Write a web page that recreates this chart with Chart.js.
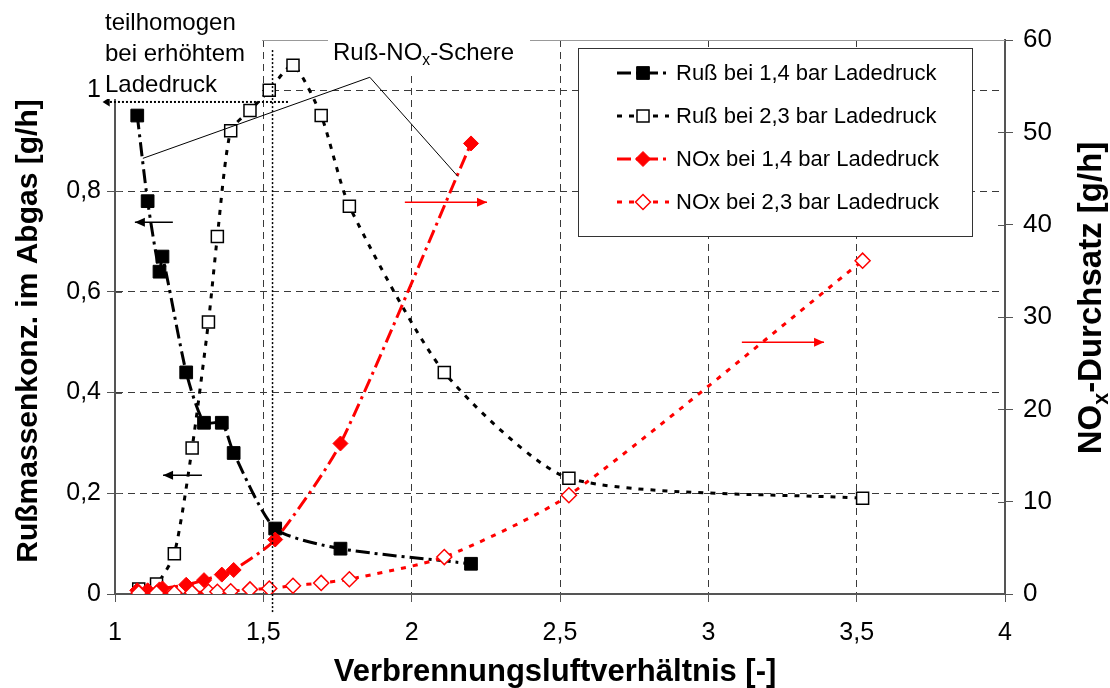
<!DOCTYPE html>
<html>
<head>
<meta charset="utf-8">
<script src="https://cdn.jsdelivr.net/npm/chart.js@4.4.0/dist/chart.umd.min.js"></script>
<style>
  html, body { margin: 0; padding: 0; background: #fff; }
  #wrap { position: relative; width: 1110px; height: 688px; }
</style>
</head>
<body>
<div id="wrap"><canvas id="chart"></canvas></div>
<script>
// Verbrennungsluftverhältnis (lambda) der Messpunkte
const lambda14 = [1.075, 1.11, 1.15, 1.16, 1.24, 1.30, 1.36, 1.40, 1.54, 1.76, 2.20];
const lambda23 = [1.08, 1.14, 1.20, 1.26, 1.315, 1.345, 1.39, 1.455, 1.52, 1.60, 1.695, 1.79, 2.11, 2.53, 3.52];

// Rußmassenkonzentration [g/h] (linke Achse)
const russ14 = [0.95, 0.78, 0.64, 0.67, 0.44, 0.34, 0.34, 0.28, 0.13, 0.09, 0.06];
const russ23 = [0.01, 0.02, 0.08, 0.29, 0.54, 0.71, 0.92, 0.96, 1.00, 1.05, 0.95, 0.77, 0.44, 0.23, 0.19];

// NOx-Durchsatz [g/h] (rechte Achse)
const nox14 = [0.4, 0.4, 0.5, 0.6, 1.0, 1.5, 2.1, 2.6, 5.9, 16.3, 48.8];
const nox23 = [0.1, 0.1, 0.1, 0.15, 0.25, 0.25, 0.3, 0.5, 0.6, 0.9, 1.2, 1.6, 4.0, 10.7, 36.1];

const seriesLabels = [
    'Ruß bei 1,4 bar Ladedruck',
    'Ruß bei 2,3 bar Ladedruck',
    'NOx bei 1,4 bar Ladedruck',
    'NOx bei 2,3 bar Ladedruck'
];

const xTickValues = [1, 1.5, 2, 2.5, 3, 3.5, 4];
const leftTickValues = [0, 0.2, 0.4, 0.6, 0.8, 1];
const rightTickValues = [0, 10, 20, 30, 40, 50, 60];

const FONT = '"Liberation Sans", Arial, sans-serif';
const RED = '#ff0000';
const GRID = '#3a3a3a';
const AXIS = '#555555';

const toPoints = (xs, ys) => xs.map((x, i) => ({x: x, y: ys[i]}));
const fmt = v => String(Math.round(v * 10) / 10).replace('.', ',');

// Text mit tiefgestellten Teilen zeichnen
function richWidth(ctx, parts, size, weight) {
    let w = 0;
    parts.forEach(p => {
        ctx.font = `${weight} ${p.sub ? size * 0.65 : size}px ${FONT}`;
        w += ctx.measureText(p.t).width;
    });
    return w;
}

function drawRich(ctx, parts, x, y, size, weight) {
    let cx = x;
    parts.forEach(p => {
        ctx.font = `${weight} ${p.sub ? size * 0.65 : size}px ${FONT}`;
        ctx.fillText(p.t, cx, y + (p.sub ? size * 0.2 : 0));
        cx += ctx.measureText(p.t).width;
    });
}

function arrow(ctx, x1, y1, x2, y2, color, head) {
    ctx.save();
    ctx.strokeStyle = color;
    ctx.fillStyle = color;
    ctx.lineWidth = 1.5;
    ctx.setLineDash([]);
    ctx.beginPath();
    ctx.moveTo(x1, y1);
    ctx.lineTo(x2, y2);
    ctx.stroke();
    const a = Math.atan2(y2 - y1, x2 - x1);
    const hw = head * 0.45;
    ctx.beginPath();
    ctx.moveTo(x2, y2);
    ctx.lineTo(x2 - head * Math.cos(a) + hw * Math.sin(a), y2 - head * Math.sin(a) - hw * Math.cos(a));
    ctx.lineTo(x2 - head * Math.cos(a) - hw * Math.sin(a), y2 - head * Math.sin(a) + hw * Math.cos(a));
    ctx.closePath();
    ctx.fill();
    ctx.restore();
}

function marker(ctx, style, x, y, r, fill, stroke, lw) {
    ctx.save();
    ctx.setLineDash([]);
    ctx.beginPath();
    if (style === 'rect') {
        const s = r * Math.SQRT1_2;
        ctx.rect(x - s, y - s, 2 * s, 2 * s);
    } else {
        ctx.moveTo(x, y - r);
        ctx.lineTo(x + r, y);
        ctx.lineTo(x, y + r);
        ctx.lineTo(x - r, y);
        ctx.closePath();
    }
    ctx.fillStyle = fill;
    ctx.fill();
    ctx.lineWidth = lw;
    ctx.strokeStyle = stroke;
    ctx.stroke();
    ctx.restore();
}

// Beschriftungen, Pfeile, Legende und Achsentitel
const annotations = {
    id: 'annotations',
    afterDraw(chart) {
        const {ctx, chartArea: area, scales} = chart;
        const px = v => scales.x.getPixelForValue(v);
        const py = v => scales.y.getPixelForValue(v);
        ctx.save();

        // Ticks, die nach innen über die Achse reichen
        ctx.strokeStyle = AXIS;
        ctx.lineWidth = 1;
        scales.y.ticks.forEach(t => {
            const yy = Math.round(py(t.value)) + 0.5;
            ctx.beginPath(); ctx.moveTo(area.left, yy); ctx.lineTo(area.left + 7, yy); ctx.stroke();
        });
        scales.y1.ticks.forEach(t => {
            const yy = Math.round(scales.y1.getPixelForValue(t.value)) + 0.5;
            ctx.beginPath(); ctx.moveTo(area.right - 7, yy); ctx.lineTo(area.right, yy); ctx.stroke();
        });

        // oberer Rahmen
        ctx.strokeStyle = '#999';
        ctx.beginPath();
        ctx.moveTo(area.left, area.top + 0.5);
        ctx.lineTo(area.right, area.top + 0.5);
        ctx.stroke();

        // Lambda-Markierung (gepunktet)
        ctx.strokeStyle = '#000';
        ctx.lineWidth = 1.5;
        ctx.setLineDash([2, 2]);
        ctx.beginPath();
        ctx.moveTo(px(1.531), py(1.08));
        ctx.lineTo(px(1.531), py(-0.036));
        ctx.stroke();
        ctx.lineWidth = 2;
        ctx.beginPath();
        ctx.moveTo(px(1.583), py(0.977));
        ctx.lineTo(px(0.975), py(0.977));
        ctx.stroke();
        ctx.setLineDash([]);
        ctx.fillStyle = '#000';
        ctx.beginPath();
        ctx.moveTo(px(0.958), py(0.977));
        ctx.lineTo(px(0.982), py(0.977) - 4.5);
        ctx.lineTo(px(0.982), py(0.977) + 4.5);
        ctx.closePath();
        ctx.fill();

        // Textfelder mit weißem Hintergrund
        ctx.fillStyle = '#fff';
        ctx.fillRect(100, 0, 162, 99);
        ctx.fillRect(328, 28, 202, 44);

        ctx.fillStyle = '#000';
        ctx.textBaseline = 'alphabetic';
        ctx.textAlign = 'left';
        ctx.font = `24px ${FONT}`;
        ctx.fillText('teilhomogen', 105, 30);
        ctx.fillText('bei erhöhtem', 105, 61);
        ctx.fillText('Ladedruck', 105, 92);
        drawRich(ctx, [{t: 'Ruß-NO'}, {t: 'x', sub: true}, {t: '-Schere'}], 333, 60, 24, 'normal');

        // Ruß-NOx-Schere Linienzug
        ctx.strokeStyle = '#000';
        ctx.lineWidth = 1;
        ctx.beginPath();
        ctx.moveTo(px(1.094), py(0.865));
        ctx.lineTo(px(1.859), py(1.026));
        ctx.lineTo(px(2.156), py(0.829));
        ctx.stroke();

        // Achsenzuordnungs-Pfeile
        arrow(ctx, px(1.195), py(0.738), px(1.067), py(0.738), '#000', 10);
        arrow(ctx, px(1.293), py(0.236), px(1.162), py(0.236), '#000', 10);
        arrow(ctx, px(1.977), py(0.778), px(2.254), py(0.778), RED, 10);
        arrow(ctx, px(3.113), py(0.5), px(3.390), py(0.5), RED, 10);

        // Legende
        const lx = 578, ly = 48, lw = 394, lh = 188;
        ctx.fillStyle = '#fff';
        ctx.fillRect(lx, ly, lw, lh);
        ctx.strokeStyle = '#333';
        ctx.lineWidth = 1;
        ctx.strokeRect(lx + 0.5, ly + 0.5, lw, lh);
        chart.data.datasets.forEach((ds, i) => {
            const cy = 73 + i * 43;
            ctx.save();
            ctx.strokeStyle = ds.borderColor;
            ctx.lineWidth = ds.borderWidth;
            ctx.setLineDash(ds.borderDash);
            ctx.beginPath();
            ctx.moveTo(617, cy);
            ctx.lineTo(669, cy);
            ctx.stroke();
            ctx.restore();
            marker(ctx, ds.pointStyle, 643, cy, ds.pointRadius, ds.pointBackgroundColor, ds.pointBorderColor, ds.pointBorderWidth);
            ctx.fillStyle = '#000';
            ctx.font = `22px ${FONT}`;
            ctx.textBaseline = 'middle';
            ctx.fillText(ds.label, 676, cy + 1);
        });

        // Achsentitel
        ctx.textBaseline = 'alphabetic';
        ctx.fillStyle = '#000';
        ctx.font = `bold 31px ${FONT}`;
        ctx.textAlign = 'center';
        ctx.fillText('Verbrennungsluftverhältnis [-]', 555, 681);

        ctx.save();
        ctx.translate(37, 331);
        ctx.rotate(-Math.PI / 2);
        ctx.font = `bold 30px ${FONT}`;
        ctx.textAlign = 'center';
        ctx.fillText('Rußmassenkonz. im Abgas [g/h]', 0, 0);
        ctx.restore();

        ctx.save();
        ctx.translate(1101, 298);
        ctx.rotate(-Math.PI / 2);
        ctx.textAlign = 'left';
        const rParts = [{t: 'NO'}, {t: 'x', sub: true}, {t: '-Durchsatz [g/h]'}];
        const rw = richWidth(ctx, rParts, 33, 'bold');
        drawRich(ctx, rParts, -rw / 2, 0, 33, 'bold');
        ctx.restore();

        ctx.restore();
    }
};

const baseLine = {
    showLine: true,
    tension: 0.22,
    fill: false,
    borderWidth: 3
};

new Chart(document.getElementById('chart'), {
    type: 'line',
    data: {
        datasets: [
            {
                ...baseLine,
                label: seriesLabels[0],
                data: toPoints(lambda14, russ14),
                yAxisID: 'y',
                borderColor: '#000',
                borderDash: [14, 5, 3, 5],
                pointStyle: 'rect',
                pointRadius: 9,
                pointBackgroundColor: '#000',
                pointBorderColor: '#000',
                pointBorderWidth: 1,
                order: 3
            },
            {
                ...baseLine,
                label: seriesLabels[1],
                data: toPoints(lambda23, russ23),
                yAxisID: 'y',
                borderColor: '#000',
                borderDash: [5, 7],
                pointStyle: 'rect',
                pointRadius: 8.5,
                pointBackgroundColor: '#fff',
                pointBorderColor: '#000',
                pointBorderWidth: 1.5,
                order: 2
            },
            {
                ...baseLine,
                label: seriesLabels[2],
                data: toPoints(lambda14, nox14),
                yAxisID: 'y1',
                borderColor: RED,
                borderDash: [14, 5, 3, 5],
                pointStyle: 'rectRot',
                pointRadius: 7.5,
                pointBackgroundColor: RED,
                pointBorderColor: RED,
                pointBorderWidth: 1,
                order: 1
            },
            {
                ...baseLine,
                label: seriesLabels[3],
                data: toPoints(lambda23, nox23),
                yAxisID: 'y1',
                borderColor: RED,
                borderDash: [5, 7],
                pointStyle: 'rectRot',
                pointRadius: 7.5,
                pointBackgroundColor: '#fff',
                pointBorderColor: RED,
                pointBorderWidth: 1.5,
                order: 0
            }
        ]
    },
    options: {
        responsive: true,
        maintainAspectRatio: false,
        animation: false,
        devicePixelRatio: 1,
        layout: { padding: { top: 40, left: 0, right: 0, bottom: 0 } },
        plugins: {
            legend: { display: false },
            tooltip: { enabled: false }
        },
        scales: {
            x: {
                type: 'linear',
                min: 1,
                max: 4,
                afterBuildTicks: s => { s.ticks = xTickValues.map(v => ({value: v})); },
                afterFit: s => { s.height = 94; },
                grid: { color: GRID, lineWidth: 1, tickLength: 8, tickColor: AXIS },
                border: { display: true, color: AXIS, width: 2, dash: [7, 5] },
                ticks: {
                    autoSkip: false, maxRotation: 0, padding: 16,
                    color: '#000', font: { family: FONT, size: 25 },
                    callback: v => fmt(v)
                }
            },
            y: {
                type: 'linear',
                position: 'left',
                min: 0,
                max: 1.1,
                afterBuildTicks: s => { s.ticks = leftTickValues.map(v => ({value: v})); },
                afterFit: s => { s.width = 115; },
                grid: { color: GRID, lineWidth: 1, tickLength: 8, tickColor: AXIS },
                border: { display: true, color: AXIS, width: 2, dash: [7, 5] },
                ticks: {
                    autoSkip: false, padding: 6,
                    color: '#000', font: { family: FONT, size: 25 },
                    callback: v => fmt(v)
                }
            },
            y1: {
                type: 'linear',
                position: 'right',
                min: 0,
                max: 60,
                afterBuildTicks: s => { s.ticks = rightTickValues.map(v => ({value: v})); },
                afterFit: s => { s.width = 105; },
                grid: { drawOnChartArea: false, tickLength: 8, color: AXIS },
                border: { display: true, color: AXIS, width: 2 },
                ticks: {
                    autoSkip: false, padding: 10,
                    color: '#000', font: { family: FONT, size: 26 },
                    callback: v => String(v)
                }
            }
        }
    },
    plugins: [annotations]
});
</script>
</body>
</html>
